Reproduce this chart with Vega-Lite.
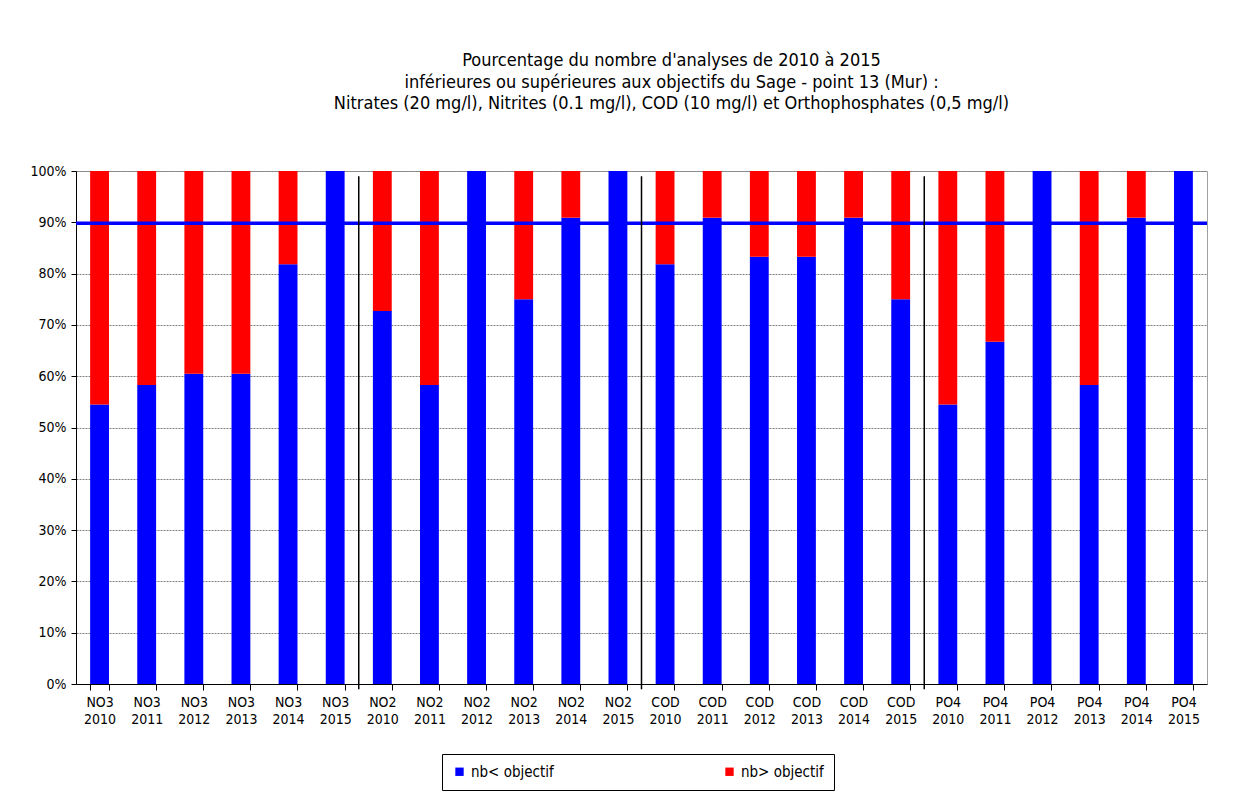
{
  "$schema": "https://vega.github.io/schema/vega-lite/v6.json",
  "width": 1131,
  "height": 513,
  "autosize": {"type": "none"},
  "padding": {"left": 76, "top": 171, "right": 51, "bottom": 111},
  "background": "white",
  "config": {
    "font": "DejaVu Sans Condensed, Liberation Sans, Arial",
    "view": {"stroke": "#a0a0a0", "strokeWidth": 1}
  },
  "title": {
    "text": [
      "Pourcentage du nombre d'analyses de 2010 à 2015",
      "inférieures ou supérieures aux objectifs du Sage - point 13 (Mur) :",
      "Nitrates (20 mg/l), Nitrites (0.1 mg/l), COD (10 mg/l) et Orthophosphates (0,5 mg/l)"
    ],
    "fontSize": 18,
    "fontWeight": "normal",
    "color": "black",
    "lineHeight": 21.5,
    "offset": 51,
    "dx": 30
  },
  "datasets": {
    "bars": [
      {"label": "NO3 2010", "nb< objectif": 54.5, "nb> objectif": 45.5},
      {"label": "NO3 2011", "nb< objectif": 58.3, "nb> objectif": 41.7},
      {"label": "NO3 2012", "nb< objectif": 60.5, "nb> objectif": 39.5},
      {"label": "NO3 2013", "nb< objectif": 60.5, "nb> objectif": 39.5},
      {"label": "NO3 2014", "nb< objectif": 81.8, "nb> objectif": 18.2},
      {"label": "NO3 2015", "nb< objectif": 100, "nb> objectif": 0},
      {"label": "NO2 2010", "nb< objectif": 72.7, "nb> objectif": 27.3},
      {"label": "NO2 2011", "nb< objectif": 58.3, "nb> objectif": 41.7},
      {"label": "NO2 2012", "nb< objectif": 100, "nb> objectif": 0},
      {"label": "NO2 2013", "nb< objectif": 75, "nb> objectif": 25},
      {"label": "NO2 2014", "nb< objectif": 90.9, "nb> objectif": 9.1},
      {"label": "NO2 2015", "nb< objectif": 100, "nb> objectif": 0},
      {"label": "COD 2010", "nb< objectif": 81.8, "nb> objectif": 18.2},
      {"label": "COD 2011", "nb< objectif": 90.9, "nb> objectif": 9.1},
      {"label": "COD 2012", "nb< objectif": 83.3, "nb> objectif": 16.7},
      {"label": "COD 2013", "nb< objectif": 83.3, "nb> objectif": 16.7},
      {"label": "COD 2014", "nb< objectif": 90.9, "nb> objectif": 9.1},
      {"label": "COD 2015", "nb< objectif": 75, "nb> objectif": 25},
      {"label": "PO4 2010", "nb< objectif": 54.5, "nb> objectif": 45.5},
      {"label": "PO4 2011", "nb< objectif": 66.7, "nb> objectif": 33.3},
      {"label": "PO4 2012", "nb< objectif": 100, "nb> objectif": 0},
      {"label": "PO4 2013", "nb< objectif": 58.3, "nb> objectif": 41.7},
      {"label": "PO4 2014", "nb< objectif": 90.9, "nb> objectif": 9.1},
      {"label": "PO4 2015", "nb< objectif": 100, "nb> objectif": 0}
    ],
    "seps": [
      {"sep": "NO2 2010"},
      {"sep": "COD 2010"},
      {"sep": "PO4 2010"}
    ],
    "target": [{"objectif": 89.8}]
  },
  "encoding": {
    "x": {
      "field": "label",
      "type": "nominal",
      "title": null,
      "scale": {
        "domain": ["NO3 2010","NO3 2011","NO3 2012","NO3 2013","NO3 2014","NO3 2015","NO2 2010","NO2 2011","NO2 2012","NO2 2013","NO2 2014","NO2 2015","COD 2010","COD 2011","COD 2012","COD 2013","COD 2014","COD 2015","PO4 2010","PO4 2011","PO4 2012","PO4 2013","PO4 2014","PO4 2015"],
        "paddingInner": 0.6,
        "paddingOuter": 0.3
      },
      "axis": {
        "labelAngle": 0,
        "labelExpr": "split(datum.label, ' ')",
        "labelFontSize": 14,
        "labelColor": "black",
        "labelLineHeight": 17,
        "labelPadding": 5,
        "tickBand": "extent",
        "tickColor": "black",
        "tickSize": 6,
        "domainColor": "black",
        "grid": false
      }
    }
  },
  "layer": [
    {
      "data": {"name": "bars"},
      "transform": [
        {"fold": ["nb< objectif", "nb> objectif"], "as": ["serie", "pct"]}
      ],
      "mark": {"type": "bar"},
      "encoding": {
        "y": {
          "field": "pct",
          "type": "quantitative",
          "stack": "zero",
          "title": null,
          "scale": {"domain": [0, 100], "nice": false},
          "axis": {
            "values": [0,10,20,30,40,50,60,70,80,90,100],
            "labelExpr": "datum.value + '%'",
            "labelFontSize": 14,
            "labelColor": "black",
            "labelPadding": 5,
            "tickColor": "black",
            "tickSize": 5,
            "domainColor": "black",
            "grid": true,
            "gridColor": "#808080",
            "gridDash": [2, 1],
            "gridWidth": 1
          }
        },
        "color": {
          "field": "serie",
          "type": "nominal",
          "scale": {"domain": ["nb< objectif", "nb> objectif"], "range": ["#0000ff", "#ff0000"]},
          "legend": {
            "title": null,
            "orient": "none",
            "legendX": 366,
            "legendY": 583,
            "direction": "horizontal",
            "columns": 2,
            "symbolType": "square",
            "symbolSize": 70,
            "symbolStrokeWidth": 0,
            "labelFontSize": 15,
            "labelColor": "black",
            "columnPadding": 168,
            "padding": 10,
            "strokeColor": "black",
            "fillColor": "white"
          }
        },
        "order": {"field": "serie", "sort": "ascending"}
      }
    },
    {
      "data": {"name": "target"},
      "mark": {"type": "rule", "color": "#0000ff", "strokeWidth": 3.5},
      "encoding": {
        "y": {"field": "objectif", "type": "quantitative"},
        "x": null
      }
    },
    {
      "data": {"name": "seps"},
      "mark": {"type": "rule", "color": "black", "strokeWidth": 1.5},
      "encoding": {
        "x": {"field": "sep", "type": "nominal", "bandPosition": -0.75},
        "y": {"datum": 99},
        "y2": {"datum": -1}
      }
    }
  ]
}
